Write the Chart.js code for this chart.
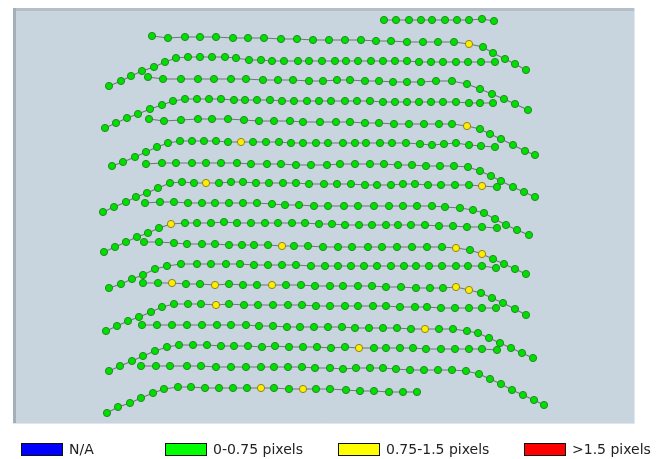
<!DOCTYPE html>
<html>
<head>
<meta charset="utf-8">
<script src="https://cdn.jsdelivr.net/npm/chart.js@4.4.1/dist/chart.umd.min.js"></script>
<style>
  html, body { margin: 0; padding: 0; background: #ffffff; }
  #wrap { position: relative; width: 666px; height: 459px; }
  canvas { position: absolute; left: 0; top: 0; }
  .lg { position: absolute; top: 442px; height: 14px; display: flex; align-items: center;
        font-family: "DejaVu Sans", sans-serif; font-size: 14px; color: #222; white-space: nowrap; }
  .lg span.box { display: inline-block; width: 40px; height: 11px; border: 1.5px solid #111; margin-right: 6px; }
</style>
</head>
<body>
<div id="wrap">
  <canvas id="c" width="666" height="459"></canvas>
  <div class="lg" style="left:21px"><span class="box" style="background:#0000ff"></span>N/A</div>
  <div class="lg" style="left:165px"><span class="box" style="background:#00ff00"></span>0-0.75 pixels</div>
  <div class="lg" style="left:338px"><span class="box" style="background:#ffff00"></span>0.75-1.5 pixels</div>
  <div class="lg" style="left:524px"><span class="box" style="background:#ff0000"></span>&gt;1.5 pixels</div>
</div>
<script>
// ---- data: point positions (pixel units of the plot) ----
const row01X = [384,396,409,421,432,445,457,469,482,494];
const row01Y = [20,20,20,20,20,20,20,20,19,21];
const row02X = [152,168,185,200,216,233,248,264,281,297,313,329,345,361,376,391,407,423,438,454,469,483,493,505,515,526];
const row02Y = [36,38,37,37,37,38,38,38,39,39,40,40,40,40,41,41,42,42,42,42,44,47,53,59,64,70];
const row03X = [109,121,131,142,154,165,176,188,200,212,225,236,249,261,272,284,298,309,322,335,346,358,371,383,395,407,419,431,443,456,468,481,495];
const row03Y = [86,81,76,71,67,62,58,57,57,57,57,58,60,60,61,61,61,61,61,61,61,61,61,61,61,61,62,62,62,62,62,62,62];
const row04X = [148,163,181,198,214,231,246,263,278,293,309,323,337,350,365,379,393,407,421,436,452,467,480,492,504,515,528];
const row04Y = [77,79,79,79,79,79,79,80,80,80,81,81,80,80,81,81,82,82,82,81,81,84,89,94,99,104,110];
const row05X = [105,116,127,138,150,162,173,185,197,209,221,234,245,257,270,282,294,307,319,331,345,357,370,383,395,407,419,431,443,456,469,480,493];
const row05Y = [128,123,118,114,109,105,101,99,99,99,99,100,100,100,100,101,101,101,101,101,101,101,101,102,102,102,102,102,102,102,103,103,103];
const row06X = [149,164,181,198,212,228,244,259,274,290,303,320,336,350,365,379,394,409,424,439,452,467,480,490,501,513,525,535];
const row06Y = [119,121,120,119,119,119,120,121,121,121,122,122,122,122,123,123,124,124,124,124,124,126,129,134,139,145,151,155];
const row07X = [112,123,135,146,157,168,180,192,204,216,228,241,253,266,279,291,303,316,328,343,355,366,380,392,406,420,432,444,456,469,481,495];
const row07Y = [166,162,157,152,147,143,141,141,141,141,142,142,142,142,142,143,143,143,143,143,143,143,143,143,143,144,145,144,143,145,146,147];
const row08X = [146,162,176,192,206,221,237,251,267,281,296,311,327,340,355,370,384,398,412,426,440,454,468,480,491,501,513,524,535];
const row08Y = [164,163,163,163,163,163,163,164,164,164,165,165,165,164,164,164,164,165,165,166,166,166,167,171,176,181,187,192,197];
const row09X = [103,114,126,136,147,158,170,182,194,206,219,231,243,256,269,283,296,309,324,337,351,365,377,391,403,415,428,441,455,469,482,497];
const row09Y = [212,207,202,197,193,188,183,182,183,183,183,182,182,183,183,183,183,184,184,184,184,185,185,185,184,184,185,185,185,185,186,187];
const row10X = [145,160,174,188,202,215,229,243,257,272,285,299,314,328,344,358,374,389,403,417,432,445,460,473,484,495,506,517,529];
const row10Y = [203,202,202,203,203,203,203,203,203,204,205,205,206,206,206,206,206,206,206,206,206,207,208,210,213,219,225,230,235];
const row11X = [104,115,126,137,148,159,171,185,197,211,224,237,251,265,278,292,305,319,332,345,359,372,386,398,411,425,439,453,467,482,497];
const row11Y = [252,247,242,237,233,228,224,223,223,223,222,223,223,223,223,223,223,224,224,225,225,225,225,225,225,225,226,226,227,227,228];
const row12X = [144,159,174,187,202,215,229,242,254,268,282,294,308,323,338,352,368,382,397,412,427,442,456,470,482,493,504,515,526];
const row12Y = [242,242,243,244,244,244,245,245,245,245,246,246,246,247,247,247,247,247,247,247,247,247,248,250,254,259,264,269,274];
const row13X = [109,121,132,143,155,167,181,197,211,226,240,254,268,282,296,311,325,338,351,364,377,391,404,416,429,442,456,468,482,496];
const row13Y = [288,284,279,275,269,266,264,264,264,264,264,265,265,265,265,266,266,266,266,266,266,266,266,266,266,266,266,266,266,268];
const row14X = [143,158,172,186,200,215,229,243,257,272,286,301,315,330,343,358,372,386,401,416,430,443,456,469,481,492,503,515,526];
const row14Y = [283,283,283,284,284,285,284,285,285,285,285,285,286,286,286,286,286,287,287,288,288,288,287,290,293,298,303,309,315];
const row15X = [106,117,128,139,151,162,174,188,201,216,229,244,258,273,288,302,316,330,345,358,373,386,400,415,427,441,455,469,482,496];
const row15Y = [331,326,321,317,312,307,304,304,304,305,304,305,305,305,305,305,306,306,306,306,306,306,307,307,307,308,308,308,308,308];
const row16X = [142,157,172,187,202,217,231,246,259,273,287,300,314,328,342,355,369,383,397,411,425,439,453,467,478,489,500,511,522,533];
const row16Y = [325,325,325,325,325,325,325,325,326,326,327,327,327,327,327,328,328,328,328,329,329,329,329,331,333,338,343,348,353,358];
const row17X = [109,120,132,143,155,167,179,193,207,221,234,248,262,275,289,303,317,331,345,359,374,386,400,413,426,441,455,469,482,497];
const row17Y = [371,366,361,356,351,347,345,345,345,346,346,346,347,346,347,347,347,348,347,348,348,348,348,348,349,349,349,349,349,350];
const row18X = [141,156,170,187,201,216,231,246,261,274,288,302,315,330,343,356,370,383,396,410,424,438,452,466,479,490,501,512,523,534,544];
const row18Y = [366,366,366,366,366,367,367,367,367,367,367,367,368,368,369,368,368,368,369,370,370,370,370,371,374,379,384,390,395,400,405];
const row19X = [107,118,130,141,153,164,178,191,205,219,233,247,261,274,289,303,316,330,346,360,374,389,403,417];
const row19Y = [413,407,403,398,393,389,387,387,388,388,388,388,388,388,389,389,389,389,390,391,391,392,392,392];

// points in the 0.75-1.5 pixel class: [row number, x]
const yellowPoints = [[2,469],[6,467],[7,241],[9,206],[9,482],[11,171],[12,282],[12,456],[12,482],
  [14,172],[14,215],[14,272],[14,456],[14,469],[15,216],[16,425],[17,359],[19,261],[19,303]];

const rowsX = [row01X,row02X,row03X,row04X,row05X,row06X,row07X,row08X,row09X,row10X,row11X,row12X,row13X,row14X,row15X,row16X,row17X,row18X,row19X];
const rowsY = [row01Y,row02Y,row03Y,row04Y,row05Y,row06Y,row07Y,row08Y,row09Y,row10Y,row11Y,row12Y,row13Y,row14Y,row15Y,row16Y,row17Y,row18Y,row19Y];

function isYellow(row, x) {
  return yellowPoints.some(p => p[0] === row && p[1] === x);
}

const datasets = rowsX.map((xs, r) => {
  const rowNo = r + 1;
  const ys = rowsY[r];
  return {
    label: 'row ' + rowNo,
    data: xs.map((x, i) => ({ x: x, y: ys[i] })),
    showLine: true,
    borderColor: '#6f7578',
    borderWidth: 1.2,
    tension: 0,
    pointRadius: 3.6,
    pointHoverRadius: 3.6,
    pointBorderWidth: 1,
    pointBackgroundColor: ctx => isYellow(rowNo, ctx.raw ? ctx.raw.x : -1) ? '#ffee00' : '#00e000',
    pointBorderColor: ctx => isYellow(rowNo, ctx.raw ? ctx.raw.x : -1) ? '#8a8420' : '#238a23',
    clip: false
  };
});

const plotBg = {
  id: 'plotBg',
  beforeDraw(chart) {
    const { ctx, chartArea: a } = chart;
    ctx.save();
    ctx.fillStyle = '#c9d5de';
    ctx.fillRect(a.left, a.top, a.right - a.left, a.bottom - a.top);
    ctx.fillStyle = '#a4afb7';
    ctx.fillRect(a.left, a.top, 3, a.bottom - a.top);
    ctx.fillStyle = '#b3bec6';
    ctx.fillRect(a.left + 3, a.top, a.right - a.left - 3, 3);
    ctx.strokeStyle = '#dfe6ec';
    ctx.lineWidth = 1;
    ctx.beginPath();
    ctx.moveTo(a.right + 0.5, a.top);
    ctx.lineTo(a.right + 0.5, a.bottom + 0.5);
    ctx.lineTo(a.left, a.bottom + 0.5);
    ctx.stroke();
    ctx.restore();
  }
};

new Chart(document.getElementById('c'), {
  type: 'scatter',
  data: { datasets: datasets },
  options: {
    responsive: false,
    animation: false,
    layout: { padding: { left: 13, top: 8, right: 32, bottom: 36 } },
    plugins: { legend: { display: false }, tooltip: { enabled: false } },
    scales: {
      x: { type: 'linear', min: 13, max: 634, display: false },
      y: { type: 'linear', min: 8, max: 423, reverse: true, display: false }
    }
  },
  plugins: [plotBg]
});
</script>
</body>
</html>
